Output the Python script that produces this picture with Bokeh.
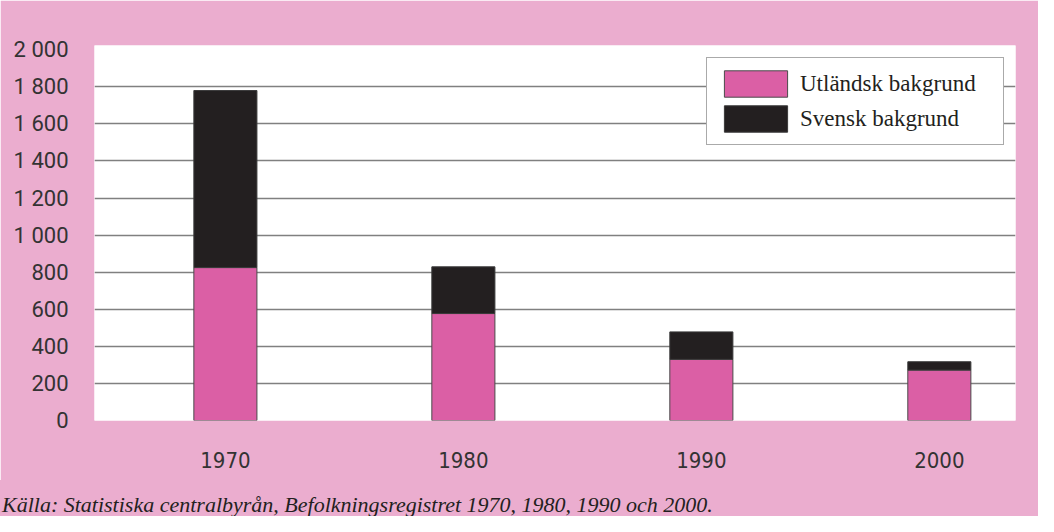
from bokeh.plotting import figure
from bokeh.models import ColumnDataSource, Range1d, FixedTicker, Legend, LegendItem, Div
from bokeh.layouts import column
from bokeh.embed import file_html
from bokeh.resources import INLINE

# ---- data ----
years = [1970, 1980, 1990, 2000]
utlandsk = [825, 577, 330, 272]
svensk = [955, 252, 148, 45]
series_names = ["Utländsk bakgrund", "Svensk bakgrund"]
y_ticks = [0, 200, 400, 600, 800, 1000, 1200, 1400, 1600, 1800, 2000]
y_tick_labels = ["0", "200", "400", "600", "800", "1 000", "1 200", "1 400", "1 600", "1 800", "2 000"]
caption = "Källa: Statistiska centralbyrån, Befolkningsregistret 1970, 1980, 1990 och 2000."

# ---- style ----
PINK_BG = "#EBADCF"
PINK_BAR = "#DB5FA5"
BLACK = "#231F20"
SERIF = "Liberation Serif"

src = ColumnDataSource(dict(year=years, utl=utlandsk, sv=svensk))

p = figure(width=1038, height=480,
           x_range=Range1d(1964.5, 2003.2), y_range=Range1d(0, 2023),
           output_backend="svg", toolbar_location=None,
           min_border_left=94, min_border_right=23, min_border_top=45, min_border_bottom=60,
           background_fill_color="white", border_fill_color=PINK_BG,
           outline_line_color=None, margin=0)

rs = p.vbar_stack(["utl", "sv"], x="year", width=2.65, source=src,
                  fill_color=[PINK_BAR, BLACK], line_color=["#4a4a4a", "#3a3a3a"],
                  line_width=1)

# grid
p.xgrid.visible = False
p.ygrid.ticker = FixedTicker(ticks=y_ticks[1:-1])
p.ygrid.grid_line_color = "#808080"
p.ygrid.grid_line_width = 1.5

# axes
for ax in (p.xaxis[0], p.yaxis[0]):
    ax.axis_line_color = None
    ax.major_tick_line_color = None
    ax.minor_tick_line_color = None
    ax.major_label_text_font_size = "22px"
    ax.major_label_text_color = "#333333"

p.yaxis.major_label_text_font = "Roboto"
p.xaxis.major_label_text_font = "DejaVu Sans Condensed"

p.yaxis.ticker = FixedTicker(ticks=y_ticks)
p.yaxis.major_label_overrides = dict(zip(y_ticks, y_tick_labels))
p.yaxis.major_label_standoff = 20
p.xaxis.ticker = FixedTicker(ticks=years)
p.xaxis.major_label_standoff = 25

# legend
legend = Legend(items=[LegendItem(label=series_names[0], renderers=[rs[0]]),
                       LegendItem(label=series_names[1], renderers=[rs[1]])],
                location=(612, 275), orientation="vertical",
                glyph_width=79, glyph_height=33, label_standoff=5,
                padding=9, spacing=2, margin=0, label_width=194,
                label_text_font=SERIF, label_text_font_size="23px",
                label_text_color=BLACK,
                border_line_color="#555555", border_line_width=1,
                background_fill_color="white", background_fill_alpha=1)
p.add_layout(legend, "center")

# caption (source note) in a pink strip below the chart
cap = Div(text=caption, width=1038, height=36, margin=0,
          styles={"background-color": PINK_BG, "font-family": SERIF,
                  "font-style": "italic", "font-size": "22px", "color": BLACK,
                  "line-height": "50px", "text-indent": "2px",
                  "white-space": "nowrap", "overflow": "hidden"})

layout = column(p, cap, spacing=0, margin=0)

open("out.html", "w").write(file_html(layout, INLINE))
